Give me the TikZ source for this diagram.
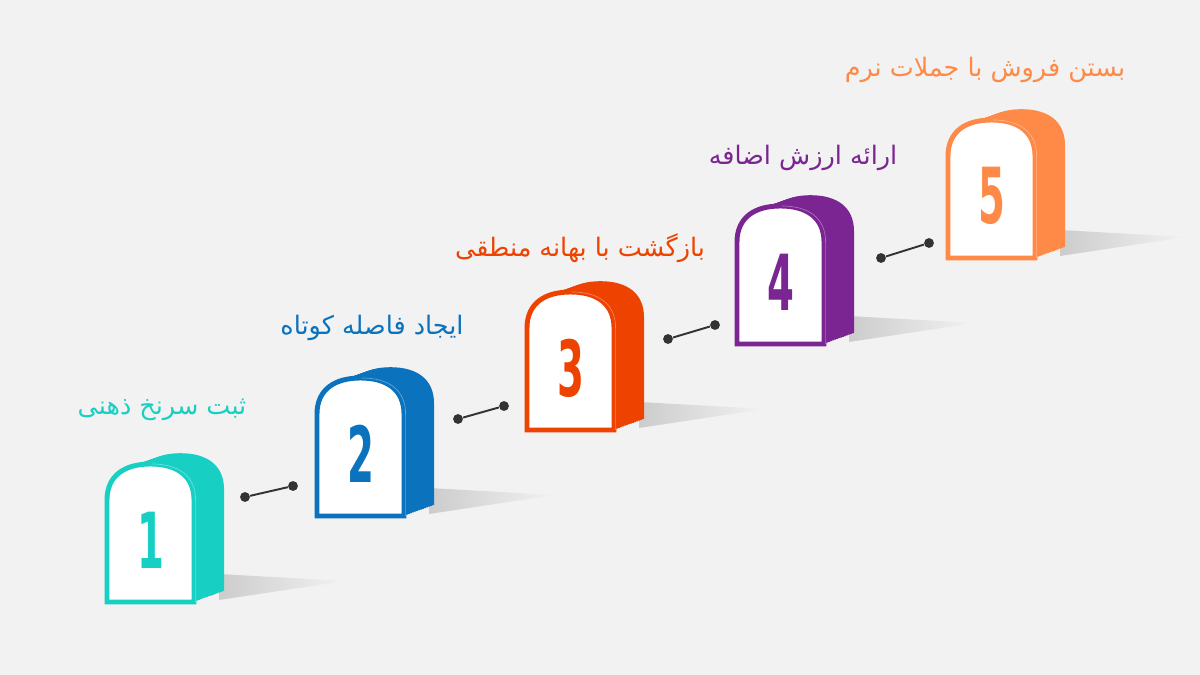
\documentclass[tikz,border=0pt]{standalone}
\usepackage{fontspec}
\usetikzlibrary{positioning}
\TeXXeTstate=1
\newfontfamily\arabicfont[Script=Arabic]{DejaVu Sans}
\newfontfamily\numfont[FakeStretch=0.5]{DejaVu Sans}
\definecolor{c1}{RGB}{24,207,196}
\definecolor{c2}{RGB}{11,114,189}
\definecolor{c3}{RGB}{238,66,0}
\definecolor{c4}{RGB}{122,37,145}
\definecolor{c5}{RGB}{255,137,70}
\definecolor{bg}{RGB}{242,242,242}
% outline of the front of one block (origin = bottom-left corner)
\newcommand{\stonepath}{(0,0) -- (0,-102) .. controls (0,-126) and (17,-138) .. (43.5,-138) .. controls (70,-138) and (87,-126) .. (87,-102) -- (87,0) -- cycle}

\begin{document}
\begin{tikzpicture}[
    x=0.02cm, y=-0.02cm, % one unit = one pixel of the 1200x675 layout
    dot/.style={circle, fill=black!80, inner sep=0pt, minimum size=5.6pt}, % end dots of the links
    link/.style={black!80, line width=1.1pt}, % short link between two blocks
    step label/.style={font=\arabicfont\fontsize{14.5}{18}\selectfont}, % title above each block
    digit/.style={font=\numfont\bfseries\fontsize{44}{44}\selectfont}, % big number on the front
    pics/milestone/.style 2 args={code={
        % shadow on the ground
        \shade[left color=black!20, right color=bg] (112,-2) -- (238,-21) -- (112,-28) -- cycle;
        % extruded body
        \foreach \k in {0,...,15}
            \fill[#1, shift={(2*\k,-0.72*\k)}] \stonepath;
        % front face
        \draw[#1, fill=white, line width=2.8pt] \stonepath;
        \draw[white, opacity=0.35, line width=0.4pt, shift={(1.6,0)}] (87,0) -- (87,-102) .. controls (87,-126) and (70,-138) .. (43.5,-138);
        \node[digit, text=#1] (-num) at (44,-62) {#2};
    }}
]

    % === Background ===
    \fill[bg] (0,0) rectangle (1200,675);

    % === Blocks (front bottom-left corners) ===
    \pic (b1) at (107,602) {milestone={c1}{1}};
    \pic (b2) at (317,516) {milestone={c2}{2}};
    \pic (b3) at (527,430) {milestone={c3}{3}};
    \pic (b4) at (737,344) {milestone={c4}{4}};
    \pic (b5) at (948,258) {milestone={c5}{5}};

    % === Links between blocks ===
    \node[dot] (l1a) at (245,497) {};
    \node[dot] (l1b) at (293,486) {};
    \draw[link] (l1a) -- (l1b);

    \node[dot] (l2a) at (458,419) {};
    \node[dot] (l2b) at (504,406) {};
    \draw[link] (l2a) -- (l2b);

    \node[dot] (l3a) at (668,339) {};
    \node[dot] (l3b) at (715,325) {};
    \draw[link] (l3a) -- (l3b);

    \node[dot] (l4a) at (881,258) {};
    \node[dot] (l4b) at (929,243) {};
    \draw[link] (l4a) -- (l4b);

    % === Titles ===
    \node[step label, text=c1] (t1) at (162,410) {\beginR ثبت سرنخ ذهنی\endR};
    \node[step label, text=c2] (t2) at (372,328) {\beginR ایجاد فاصله کوتاه\endR};
    \node[step label, text=c3] (t3) at (580,248) {\beginR بازگشت با بهانه منطقی\endR};
    \node[step label, text=c4] (t4) at (803,158) {\beginR ارائه ارزش اضافه\endR};
    \node[step label, text=c5] (t5) at (985,70) {\beginR بستن فروش با جملات نرم\endR};

\end{tikzpicture}
\end{document}
